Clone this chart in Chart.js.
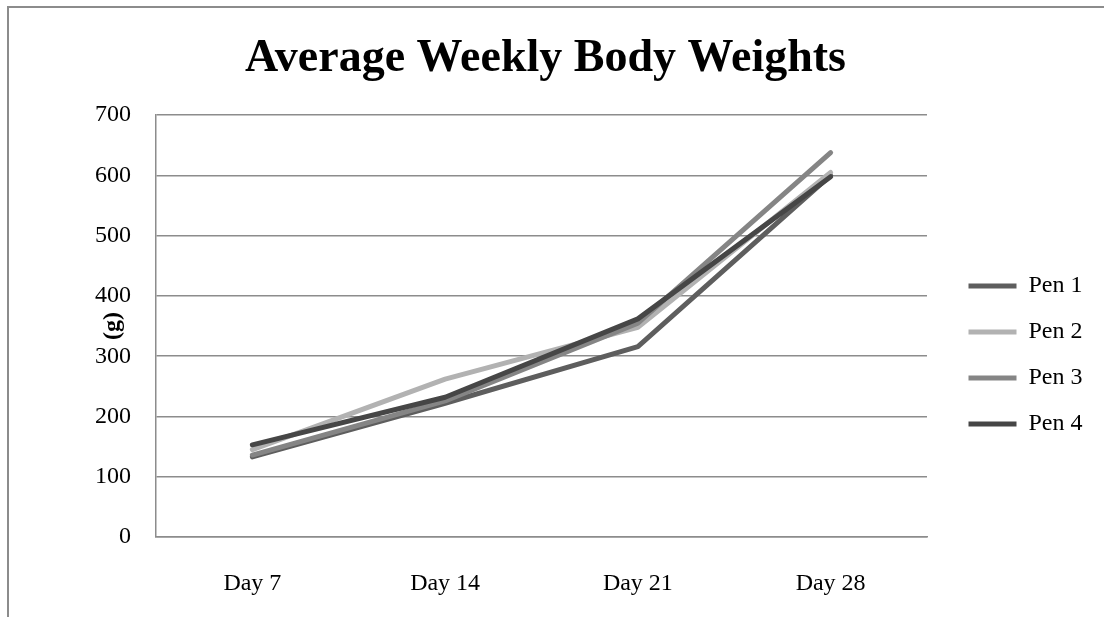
<!DOCTYPE html>
<html>
<head>
<meta charset="utf-8">
<script src="https://cdn.jsdelivr.net/npm/chart.js@4"></script>
<style>
  html, body { margin: 0; padding: 0; background: #fff; }
  #frame {
    position: absolute; left: 7px; top: 6px; width: 1200px; height: 700px;
    border-left: 2px solid #8c8c8c; border-top: 2px solid #8c8c8c;
  }
  #wrap { position: absolute; left: 0; top: 0; width: 1104px; height: 617px; }
</style>
</head>
<body>
<div id="frame"></div>
<div id="wrap"><canvas id="mainCanvas" width="1104" height="617"></canvas></div>
<script>
const days = ['Day 7', 'Day 14', 'Day 21', 'Day 28'];
const pen1 = [133, 222, 316, 600];
const pen2 = [145, 262, 348, 605];
const pen3 = [136, 226, 355, 638];
const pen4 = [153, 232, 362, 598];
const penNames = ['Pen 1', 'Pen 2', 'Pen 3', 'Pen 4'];
const penColors = ['#5e5e5e', '#b2b2b2', '#858585', '#464646'];

const serif = '"Liberation Serif", "Times New Roman", serif';
let ctx = document.getElementById('mainCanvas').getContext('2d');

function makeDataset(i, values) {
    return {
        label: penNames[i],
        data: values,
        borderColor: penColors[i],
        backgroundColor: penColors[i],
        borderWidth: 5,
        borderCapStyle: 'round',
        borderJoinStyle: 'round',
        pointRadius: 0,
        tension: 0,
        fill: false,
        order: 4 - i, // later pens drawn on top, like the original
    };
}

// move the legend to where the original has it
const legendShift = {
    id: 'legendShift',
    afterLayout(chart) {
        const lg = chart.legend;
        const dx = 946.5 - lg.left;
        const dy = 355 - (lg.top + lg.bottom) / 2;
        lg.left += dx; lg.right += dx;
        lg.top += dy; lg.bottom += dy;
    }
};

new Chart(ctx, {
    type: 'line',
    data: {
        labels: days,
        datasets: [makeDataset(0, pen1), makeDataset(1, pen2), makeDataset(2, pen3), makeDataset(3, pen4)],
    },
    plugins: [legendShift],
    options: {
        responsive: false,
        animation: false,
        layout: { padding: { left: 18, right: 31, top: 0, bottom: 0 } },
        plugins: {
            title: {
                display: true,
                text: 'Average Weekly Body Weights',
                color: '#000',
                font: { family: serif, size: 46, weight: 'bold', lineHeight: 1.2 },
                padding: { top: 32, bottom: 28 },
            },
            legend: {
                position: 'right',
                labels: {
                    usePointStyle: true,
                    pointStyle: 'line',
                    pointStyleWidth: 48,
                    padding: 22,
                    color: '#000',
                    font: { family: serif, size: 24 },
                    sort: (a, b) => a.datasetIndex - b.datasetIndex,
                },
            },
            tooltip: { enabled: false },
        },
        scales: {
            x: {
                offset: true,
                grid: { display: false, drawTicks: false },
                border: { display: true, color: '#8c8c8c', width: 1.5 },
                ticks: { color: '#000', padding: 32, font: { family: serif, size: 24 } },
                afterFit(scale) { scale.height = 80; },
            },
            y: {
                min: 0,
                max: 700,
                ticks: { stepSize: 100, color: '#000', padding: 25, font: { family: serif, size: 24 } },
                grid: { color: '#8c8c8c', lineWidth: 1.5, drawTicks: false },
                border: { display: true, color: '#8c8c8c', width: 1.5 },
                title: {
                    display: true,
                    text: '(g)',
                    color: '#000',
                    font: { family: serif, size: 24, weight: 'bold', lineHeight: 1.2 },
                    padding: { top: 80.6, bottom: 0 },
                },
                afterFit(scale) { scale.width = 138; },
            },
        },
    },
});
</script>
</body>
</html>
